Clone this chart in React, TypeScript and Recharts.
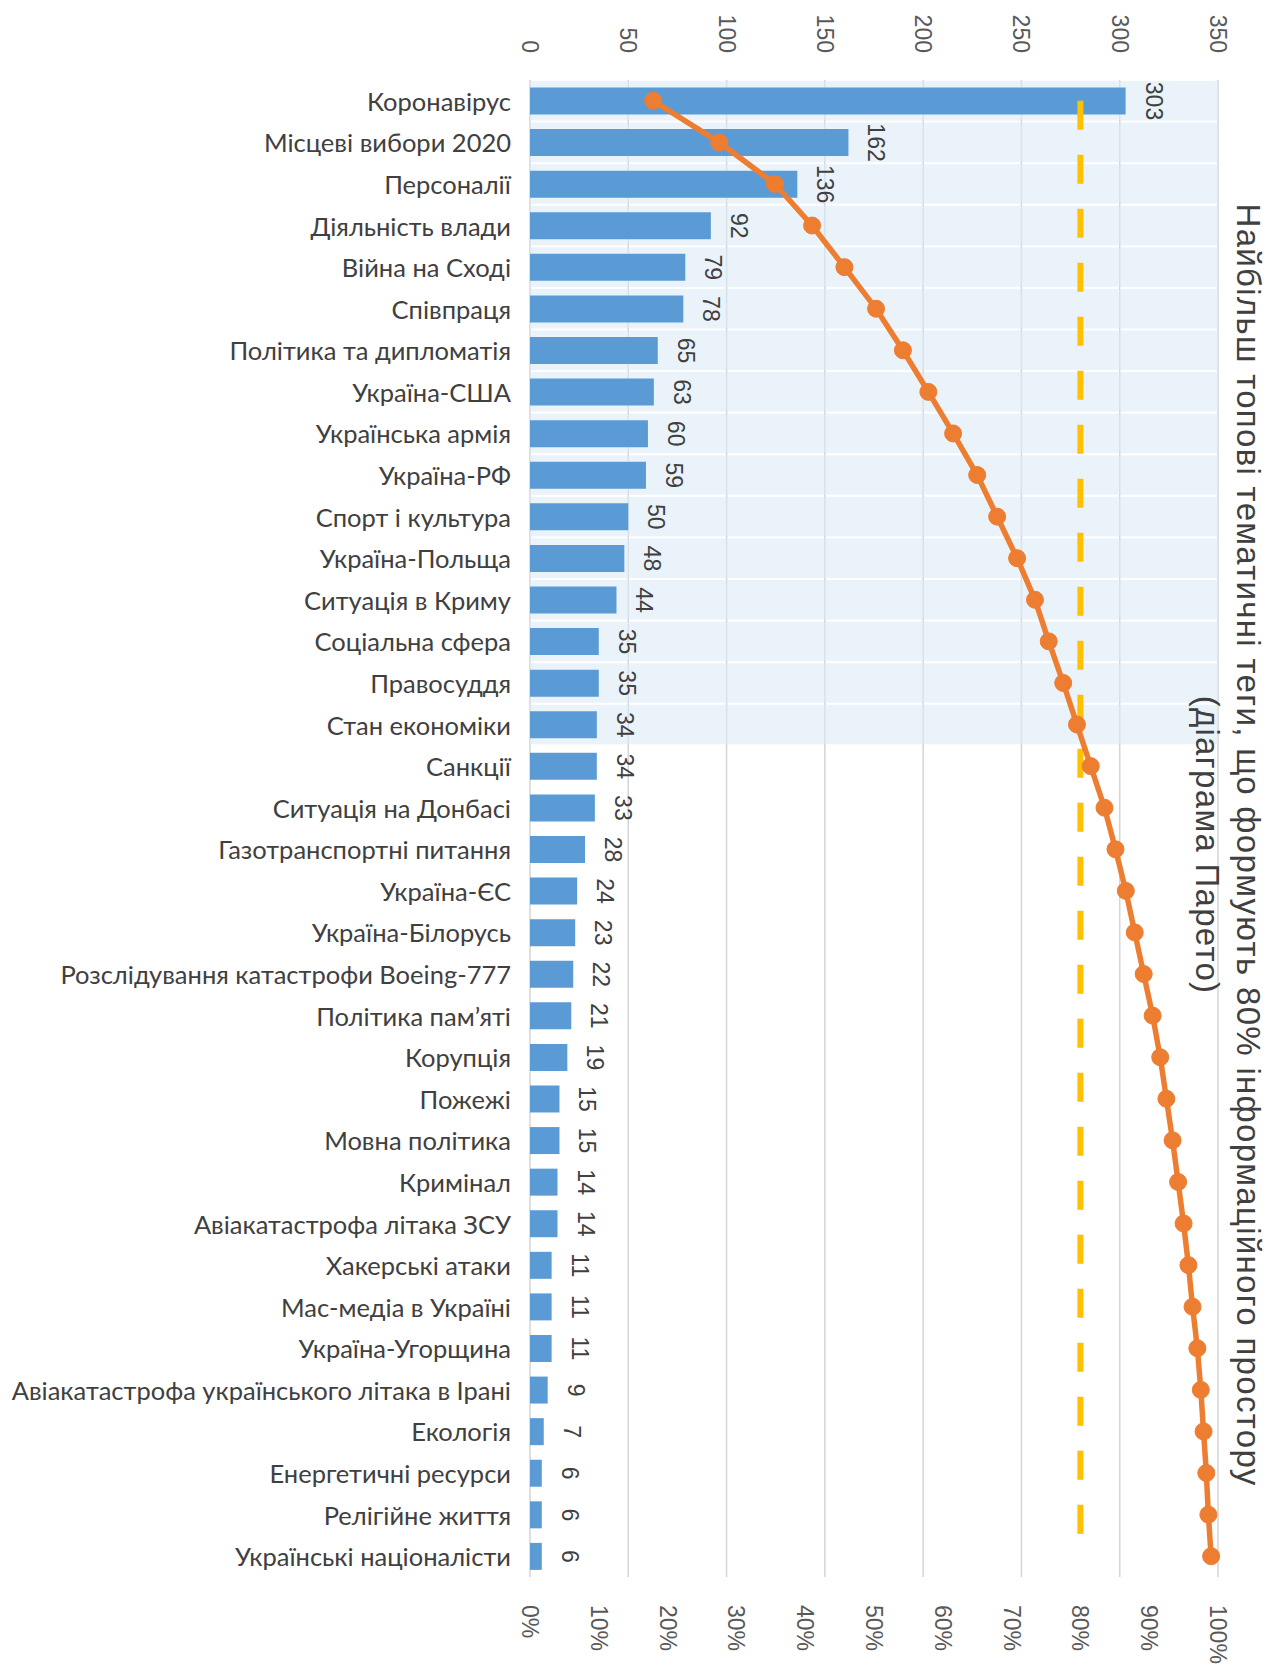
import React from 'react';
import {
  ComposedChart,
  Bar,
  Line,
  XAxis,
  YAxis,
  CartesianGrid,
  ReferenceLine,
  ReferenceArea,
  LabelList
} from 'recharts';

// теги, кількість згадок, накопичена частка (%)
const categories = [
  'Коронавірус',
  'Місцеві вибори 2020',
  'Персоналії',
  'Діяльність влади',
  'Війна на Сході',
  'Співпраця',
  'Політика та дипломатія',
  'Україна-США',
  'Українська армія',
  'Україна-РФ',
  'Спорт і культура',
  'Україна-Польща',
  'Ситуація в Криму',
  'Соціальна сфера',
  'Правосуддя',
  'Стан економіки',
  'Санкції',
  'Ситуація на Донбасі',
  'Газотранспортні питання',
  'Україна-ЄС',
  'Україна-Білорусь',
  'Розслідування катастрофи Boeing-777',
  'Політика пам’яті',
  'Корупція',
  'Пожежі',
  'Мовна політика',
  'Кримінал',
  'Авіакатастрофа літака ЗСУ',
  'Хакерські атаки',
  'Мас-медіа в Україні',
  'Україна-Угорщина',
  'Авіакатастрофа українського літака в Ірані',
  'Екологія',
  'Енергетичні ресурси',
  'Релігійне життя',
  'Українські націоналісти'
];

const counts = [
  303, 162, 136, 92, 79, 78, 65, 63, 60, 59, 50, 48, 44, 35, 35, 34, 34, 33,
  28, 24, 23, 22, 21, 19, 15, 15, 14, 14, 11, 11, 11, 9, 7, 6, 6, 6
];

const cumulativeShare = [
  17.9, 27.5, 35.6, 41.0, 45.7, 50.3, 54.2, 57.9, 61.5, 65.0, 67.9, 70.8,
  73.4, 75.4, 77.5, 79.5, 81.5, 83.5, 85.1, 86.6, 87.9, 89.2, 90.5, 91.6,
  92.5, 93.4, 94.2, 95.0, 95.7, 96.3, 97.0, 97.5, 97.9, 98.3, 98.6, 99.0
];

const countTicks = [0, 50, 100, 150, 200, 250, 300, 350];
const shareTicks = [0, 10, 20, 30, 40, 50, 60, 70, 80, 90, 100];
const paretoLevel = 80;
const topTags = categories.slice(0, 16);

const titleLines = [
  'Найбільш топові тематичні теги, що формують 80% інформаційного простору',
  '(діаграма Парето)'
];

const data = categories.map((name, i) => ({
  name,
  value: counts[i],
  cum: cumulativeShare[i]
}));

const FONT = "Lato, 'Open Sans', sans-serif";
const AXIS_FONT = "'Liberation Sans', Arial, sans-serif";

const CountTick = ({ x, payload }: any) => (
  <text
    x={x}
    y={53}
    transform={`rotate(90 ${x} 53)`}
    textAnchor="end"
    dominantBaseline="central"
    fontSize={23}
    fontFamily={AXIS_FONT}
    fill="#595959"
  >
    {payload.value}
  </text>
);

const ShareTick = ({ x, payload }: any) => (
  <text
    x={x}
    y={1605}
    transform={`rotate(90 ${x} 1605)`}
    textAnchor="start"
    dominantBaseline="central"
    fontSize={23}
    fontFamily={AXIS_FONT}
    fill="#595959"
  >
    {payload.value}%
  </text>
);

const CategoryTick = ({ y, payload }: any) => (
  <text
    x={511}
    y={y}
    textAnchor="end"
    dominantBaseline="central"
    fontSize={25.5}
    fontFamily={FONT}
    fill="#404040"
  >
    {payload.value}
  </text>
);

const renderValueLabel = (props: any) => {
  const { x, y, width, height, value } = props;
  const cx = x + width + 28;
  const cy = y + height / 2;
  return (
    <text
      x={cx}
      y={cy}
      transform={`rotate(90 ${cx} ${cy})`}
      textAnchor="middle"
      dominantBaseline="central"
      fontSize={23}
      fontFamily={AXIS_FONT}
      fill="#404040"
    >
      {value}
    </text>
  );
};

const ShadeRow = (props: any) => {
  const { x, y, width, height } = props;
  return <rect x={x} y={y + 1} width={width} height={height - 2} fill="#DEEBF7" fillOpacity={0.6} />;
};

export default function App() {
  return (
    <div style={{ position: 'absolute', left: 0, top: 0, width: 1285, height: 1670, background: '#fff' }}>
      <ComposedChart
        layout="vertical"
        width={1285}
        height={1670}
        data={data}
        margin={{ top: 0, right: 67, bottom: 0, left: 0 }}
        barCategoryGap="18%"
      >
        <XAxis
          xAxisId="count"
          type="number"
          orientation="top"
          domain={[0, 350]}
          ticks={countTicks}
          height={80}
          axisLine={false}
          tickLine={false}
          tick={<CountTick />}
          interval={0}
        />
        <XAxis
          xAxisId="pct"
          type="number"
          orientation="bottom"
          domain={[0, 100]}
          ticks={shareTicks}
          height={93}
          axisLine={false}
          tickLine={false}
          tick={<ShareTick />}
          interval={0}
        />
        <YAxis
          type="category"
          dataKey="name"
          width={530}
          axisLine={false}
          tickLine={false}
          interval={0}
          tick={<CategoryTick />}
        />
        {topTags.map((name) => (
          <ReferenceArea
            key={name}
            xAxisId="count"
            x1={0}
            x2={350}
            y1={name}
            y2={name}
            shape={<ShadeRow />}
          />
        ))}
        <CartesianGrid xAxisId="count" horizontal={false} stroke="#D4D4D4" strokeWidth={1.5} />
        <Bar xAxisId="count" dataKey="value" fill="#5B9BD5" isAnimationActive={false}>
          <LabelList dataKey="value" content={renderValueLabel} />
        </Bar>
        <ReferenceLine
          xAxisId="pct"
          segment={[
            { x: paretoLevel, y: categories[0] },
            { x: paretoLevel, y: categories[categories.length - 1] }
          ]}
          stroke="#FFC000"
          strokeWidth={6}
          strokeDasharray="29 25"
        />
        <Line
          xAxisId="pct"
          dataKey="cum"
          type="linear"
          stroke="#ED7D31"
          strokeWidth={5.5}
          dot={{ r: 8.5, fill: '#ED7D31', stroke: '#ED7D31', strokeWidth: 1 }}
          activeDot={false}
          isAnimationActive={false}
        />
      </ComposedChart>
      <svg
        width={1285}
        height={1670}
        style={{ position: 'absolute', left: 0, top: 0, pointerEvents: 'none' }}
      >
        <text
          x={1248}
          y={845}
          transform="rotate(90 1248 845)"
          textAnchor="middle"
          dominantBaseline="central"
          fontSize={33}
          letterSpacing={1.3}
          fontFamily={AXIS_FONT}
          fill="#404040"
        >
          {titleLines[0]}
        </text>
        <text
          x={1207}
          y={845}
          transform="rotate(90 1207 845)"
          textAnchor="middle"
          dominantBaseline="central"
          fontSize={33}
          letterSpacing={1.3}
          fontFamily={AXIS_FONT}
          fill="#404040"
        >
          {titleLines[1]}
        </text>
      </svg>
    </div>
  );
}
